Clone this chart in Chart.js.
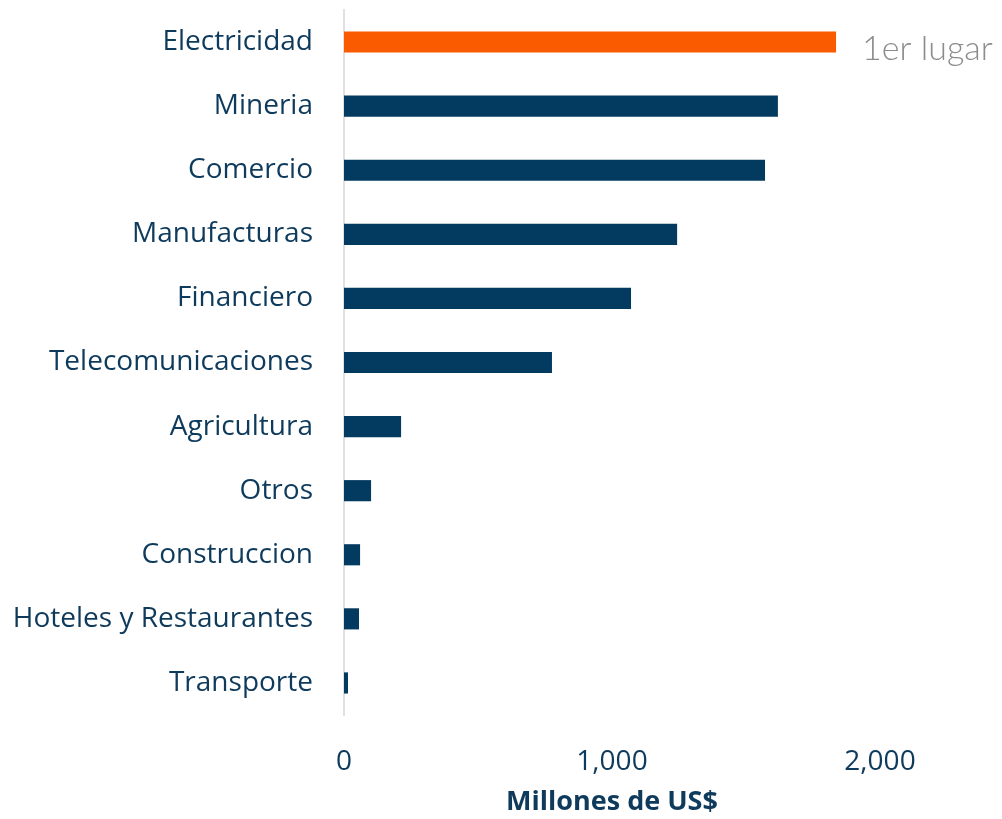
<!DOCTYPE html>
<html><head><meta charset="utf-8">
<script src="https://cdn.jsdelivr.net/npm/chart.js@4/dist/chart.umd.min.js"></script>
<style>html,body{margin:0;padding:0;background:#fff}#wrap{width:1002px;height:819px}</style>
</head><body><div id="wrap"><canvas id="c" width="1002" height="819"></canvas></div>
<script>
const categories = ["Electricidad","Mineria","Comercio","Manufacturas","Financiero","Telecomunicaciones","Agricultura","Otros","Construccion","Hoteles y Restaurantes","Transporte"];
const values = [1836,1619,1571,1243,1071,776,213,101,60,56,15];
const barColors = ["#FA5A00","#033A60","#033A60","#033A60","#033A60","#033A60","#033A60","#033A60","#033A60","#033A60","#033A60"];
const xTicks = [0,1000,2000];
const annotationText = "1er lugar";
const textColor = "#0E3A5C";
const labelFont = "'Open Sans', 'Noto Sans', sans-serif";

const annotPlugin = {
  id:'annot',
  afterDatasetsDraw(chart){
    const ctx = chart.ctx;
    const y = chart.scales.y.getPixelForValue(0);
    const x = chart.scales.x.getPixelForValue(values[0]);
    ctx.save();
    ctx.font = "300 34px Lato, 'Open Sans', sans-serif";
    ctx.fillStyle = "#8C8C8C";
    ctx.textAlign = "left";
    ctx.textBaseline = "middle";
    ctx.fillText(annotationText, x + 26, y + 7);
    ctx.restore();
  }
};

new Chart(document.getElementById('c'), {
  type:'bar',
  data:{labels:categories, datasets:[{data:values, backgroundColor:barColors, barPercentage:0.33, categoryPercentage:1.0}]},
  options:{
    indexAxis:'y', responsive:false, animation:false,
    layout:{padding:{top:10,right:122,bottom:0,left:0}},
    plugins:{legend:{display:false}, tooltip:{enabled:false}},
    scales:{
      x:{min:0,max:2000,
        afterBuildTicks(s){ s.ticks = xTicks.map(v=>({value:v})); },
        afterFit(s){ s.height = 104; },
        grid:{display:false}, border:{display:false},
        ticks:{padding:22, color:textColor, font:{family:labelFont, size:28},
          callback:(v)=>Number(v).toLocaleString('en-US')},
        title:{display:true, text:'Millones de US$', color:textColor, padding:{top:2,bottom:0},
          font:{family:labelFont, size:27, weight:'bold'}}
      },
      y:{
        afterFit(s){ s.width = 344; s.paddingTop = 0; s.paddingBottom = 0; },
        grid:{display:false, drawTicks:false},
        border:{display:true, color:'#E0E0E0', width:2},
        ticks:{padding:31, color:textColor, font:{family:labelFont, size:28}}
      }
    }
  },
  plugins:[annotPlugin]
});
</script></body></html>
